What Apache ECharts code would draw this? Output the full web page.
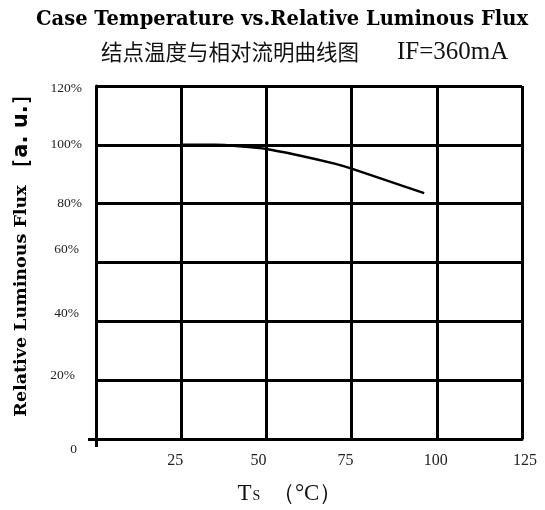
<!DOCTYPE html>
<html>
<head>
<meta charset="utf-8">
<script src="https://cdn.jsdelivr.net/npm/echarts@6.0.0/dist/echarts.min.js"></script>
<style>
html,body{margin:0;padding:0;background:#fff;}
#chart{width:545px;height:510px;}
</style>
</head>
<body>
<div id="chart"></div>
<script>
// ---- data ----
var temperatures = [25, 35, 42, 50, 60, 70, 75, 85, 96.3];
var relativeFlux = [100, 100, 99.5, 98.6, 96.3, 93.6, 91.9, 88.0, 83.6];
var xTicks = [0, 25, 50, 75, 100, 125];
var yTickLabels = {0: '0', 20: '20%', 40: '40%', 60: '60%', 80: '80%', 100: '100%', 120: '120%'};
var titleText = 'Case Temperature vs.Relative Luminous Flux';
var subtitleCn = '结点温度与相对流明曲线图';
var subtitleCurrent = 'IF=360mA';

var seriesData = temperatures.map(function (t, i) { return [t, relativeFlux[i]]; });

var serif = '"Liberation Serif", "Times New Roman", serif';
var black = '#000';

// per-label nudges to follow the reference label placement
var yRich = {
  y120: {padding: [4, 0, 0, 0]},
  y100: {padding: [0, 0, 0, 0]},
  y80: {padding: [0, 0, 0, 0]},
  y60: {padding: [0, 3, 26, 0]},
  y40: {padding: [0, 3, 16, 0]},
  y20: {padding: [0, 7, 10, 0]},
  y0: {padding: [20, 5, 0, 0]}
};
var xRich = {
  x25: {padding: [0, 12, 0, 0]},
  x50: {padding: [0, 16, 0, 0]},
  x75: {padding: [0, 12, 0, 0]},
  x100: {padding: [0, 2, 0, 0]},
  x125: {padding: [0, 0, 0, 6]}
};
Object.keys(yRich).forEach(function (k) {
  yRich[k].fontFamily = serif; yRich[k].fontSize = 13.5; yRich[k].color = '#222';
});
Object.keys(xRich).forEach(function (k) {
  xRich[k].fontFamily = serif; xRich[k].fontSize = 16; xRich[k].color = '#222';
});

var chart = echarts.init(document.getElementById('chart'), null, {renderer: 'canvas'});
var grid = {left: 96, right: 23, top: 86, bottom: 70};

chart.setOption({
  animation: false,
  backgroundColor: '#fff',
  title: [
    {
      text: titleText,
      left: 31, top: 5,
      textStyle: {fontFamily: '"DejaVu Serif", serif', fontWeight: 'bold', fontSize: 19.5, color: black}
    },
    {
      text: '{c|' + subtitleCn + '}{l|' + subtitleCurrent + '}',
      left: 96, top: 33,
      textStyle: {
        fontWeight: 'normal',
        rich: {
          c: {fontFamily: '"Noto Sans CJK SC", serif', fontWeight: 'normal', fontSize: 21.5, color: '#111', verticalAlign: 'middle'},
          l: {fontFamily: serif, fontWeight: 'normal', fontSize: 25, color: '#111', padding: [2, 0, 0, 38], verticalAlign: 'middle'}
        }
      }
    }
  ],
  grid: grid,
  xAxis: [
    {
      type: 'value', min: 0, max: 125, interval: 25,
      axisLine: {show: true, onZero: false, lineStyle: {color: black, width: 3}},
      axisTick: {show: false},
      splitLine: {show: true, lineStyle: {color: black, width: 3}},
      axisLabel: {
        margin: 14,
        formatter: function (v) { return v === 0 ? '' : '{x' + v + '|' + v + '}'; },
        rich: xRich
      },
      name: '{t|T}{s|S}{t|  （°C）}',
      nameLocation: 'middle',
      nameGap: 43,
      nameTextStyle: {
        padding: [0, 38, 0, 0],
        rich: {
          t: {fontFamily: serif, fontSize: 23, color: '#111'},
          s: {fontFamily: serif, fontSize: 14, color: '#111', padding: [6, 0, 0, 1]}
        }
      }
    },
    {
      type: 'value', min: 0, max: 125, position: 'bottom',
      axisLine: {show: false},
      axisLabel: {show: false},
      splitLine: {show: false},
      axisTick: {show: true, customValues: [0], length: 8, lineStyle: {color: black, width: 3}}
    }
  ],
  yAxis: [
    {
      type: 'value', min: 0, max: 120, interval: 20,
      axisLine: {show: true, onZero: false, lineStyle: {color: black, width: 3}},
      axisTick: {show: false},
      splitLine: {show: true, lineStyle: {color: black, width: 3}},
      axisLabel: {
        margin: 14,
        formatter: function (v) { return '{y' + v + '|' + yTickLabels[v] + '}'; },
        rich: yRich
      },
      name: '{b|Relative Luminous Flux}  {r|［a. u.］}',
      nameLocation: 'middle',
      nameRotate: 90,
      nameGap: 64,
      nameTextStyle: {
        padding: [0, 0, 0, 24],
        rich: {
          b: {fontFamily: '"DejaVu Serif", serif', fontWeight: 'bold', fontSize: 17.5, color: black},
          r: {fontFamily: '"DejaVu Sans", sans-serif', fontWeight: 'bold', fontSize: 21, color: black}
        }
      }
    },
    {
      type: 'value', min: 0, max: 120, position: 'left',
      axisLine: {show: false},
      axisLabel: {show: false},
      splitLine: {show: false},
      axisTick: {show: true, customValues: [0], length: 8, lineStyle: {color: black, width: 3}}
    }
  ],
  series: [
    {
      type: 'line',
      xAxisIndex: 0, yAxisIndex: 0,
      data: seriesData,
      showSymbol: false,
      smooth: 0.2,
      lineStyle: {color: black, width: 2.5},
      z: 5
    }
  ]
});
</script>
</body>
</html>
